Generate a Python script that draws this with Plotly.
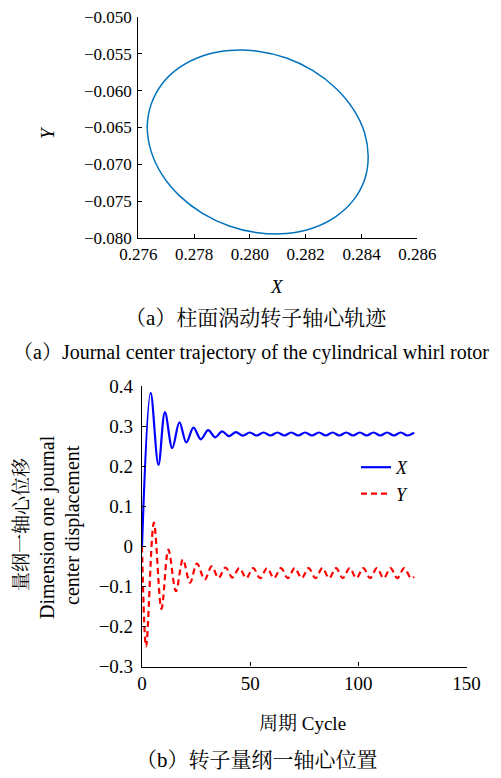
import plotly.graph_objects as go

# ---------------- (a) journal center trajectory ----------------
orbit_x = [0.28424, 0.28411, 0.28371, 0.28308, 0.28226, 0.28131, 0.28028, 0.27926,
           0.27830, 0.27748, 0.27685, 0.27646, 0.27632, 0.27646, 0.27685, 0.27748,
           0.27830, 0.27926, 0.28028, 0.28131, 0.28226, 0.28308, 0.28371, 0.28411, 0.28424]
orbit_y = [-0.06895, -0.06570, -0.06254, -0.05968, -0.05731, -0.05560, -0.05467, -0.05458,
           -0.05532, -0.05687, -0.05910, -0.06187, -0.06498, -0.06823, -0.07139, -0.07426,
           -0.07662, -0.07833, -0.07926, -0.07936, -0.07861, -0.07706, -0.07483, -0.07206, -0.06895]

# ---------------- (b) displacement vs cycle (extrema) ----------------
x_t = [0, 4.0, 7.6, 10.6, 14.0, 17.3, 20.5, 23.8, 27.2, 30.6, 33.8, 37.0, 40.2, 43.4, 46.6,
       49.8, 53.0, 56.2, 59.4, 62.6, 65.8, 69.0, 72.2, 75.4, 78.6, 81.8, 84.95, 88.1, 91.25,
       94.4, 97.55, 100.7, 103.85, 107.0, 110.15, 113.3, 116.45, 119.6, 122.75, 125.8]
x_v = [0.0, 0.383, 0.203, 0.335, 0.245, 0.309, 0.259, 0.296, 0.267, 0.290, 0.272, 0.287, 0.275,
       0.285, 0.276, 0.284, 0.2765, 0.284, 0.2765, 0.284, 0.2765, 0.284, 0.2765, 0.284, 0.2765,
       0.284, 0.2765, 0.284, 0.2765, 0.284, 0.2765, 0.284, 0.2765, 0.284, 0.2765, 0.284, 0.2765,
       0.284, 0.2765, 0.2835]

y_t = [0, 1.9, 5.5, 9.0, 12.2, 15.7, 18.9, 22.2, 25.4, 29.0, 32.2, 35.4, 38.6, 41.8, 45.0,
       48.2, 51.4, 54.6, 57.8, 61.0, 64.2, 67.4, 70.6, 73.8, 77.0, 80.2, 83.4, 86.5, 89.7,
       92.8, 96.0, 99.1, 102.3, 105.4, 108.6, 111.7, 114.9, 118.0, 121.2, 124.3, 125.8]
y_v = [0.0, -0.250, 0.059, -0.156, -0.008, -0.112, -0.033, -0.091, -0.043, -0.083, -0.050,
       -0.079, -0.053, -0.078, -0.0545, -0.0795, -0.0545, -0.0795, -0.0545, -0.0795, -0.0545,
       -0.0795, -0.0545, -0.0795, -0.0545, -0.0795, -0.0545, -0.0795, -0.0545, -0.0795, -0.0545,
       -0.0795, -0.0545, -0.0795, -0.0545, -0.0795, -0.0545, -0.0795, -0.0545, -0.0795, -0.076]

top_xticks = [0.276, 0.278, 0.280, 0.282, 0.284, 0.286]
top_yticks = [-0.050, -0.055, -0.060, -0.065, -0.070, -0.075, -0.080]
bot_xticks = [0, 50, 100, 150]
bot_yticks = [-0.3, -0.2, -0.1, 0, 0.1, 0.2, 0.3, 0.4]

W, H = 501, 778
FONT = "Liberation Serif, Noto Serif CJK SC, Noto Sans CJK SC, serif"


def px(x):
    return x / W


def py(y):
    return 1 - y / H


fig = go.Figure()
fig.add_trace(go.Scatter(x=orbit_x, y=orbit_y, mode="lines",
                         line=dict(color="#0072BD", width=1.5, shape="spline", smoothing=1.0),
                         xaxis="x", yaxis="y", showlegend=False))
fig.add_trace(go.Scatter(x=x_t, y=x_v, mode="lines", name="<i>X</i>",
                         line=dict(color="#0000FF", width=2.2, shape="spline", smoothing=1.0),
                         xaxis="x2", yaxis="y2"))
fig.add_trace(go.Scatter(x=y_t, y=y_v, mode="lines", name="<i>Y</i>",
                         line=dict(color="#FF0000", width=2.2, shape="spline", smoothing=1.0, dash="6px,4px"),
                         xaxis="x2", yaxis="y2"))

axis_common = dict(showline=True, linecolor="black", linewidth=1.2, ticks="inside", ticklen=4,
                   tickcolor="black", tickwidth=1.2, showgrid=False, zeroline=False, mirror=False,
                   automargin=False)

fig.update_layout(
    template="none",
    width=W, height=H,
    margin=dict(l=0, r=0, t=0, b=0),
    paper_bgcolor="white", plot_bgcolor="white",
    font=dict(family=FONT, color="black", size=17),
    xaxis=dict(domain=[px(138.3), px(417.3)], anchor="y", range=[0.276, 0.286],
               tickvals=top_xticks, tickformat=".3f", tickfont=dict(size=17, family=FONT),
               **axis_common),
    yaxis=dict(domain=[py(238.3), py(16.7)], anchor="x", range=[-0.080, -0.050],
               tickvals=top_yticks, tickformat=".3f", tickfont=dict(size=17, family=FONT),
               ticklabelstandoff=2, **axis_common),
    xaxis2=dict(domain=[px(142), px(466.5)], anchor="y2", range=[0, 150],
                tickvals=bot_xticks, tickfont=dict(size=19, family=FONT), **axis_common),
    yaxis2=dict(domain=[py(666.5), py(386)], anchor="x2", range=[-0.3, 0.4],
                tickvals=bot_yticks, tickfont=dict(size=19, family=FONT), ticklabelstandoff=4,
                **axis_common),
    legend=dict(x=px(356), y=py(449), xanchor="left", yanchor="top",
                bgcolor="rgba(0,0,0,0)", font=dict(size=18, family=FONT), tracegroupgap=0),
)

ann = [
    dict(text="<i>X</i>", x=px(277), y=py(287), size=19, angle=0),
    dict(text="<i>Y</i>", x=px(48), y=py(133), size=19, angle=-90),
    dict(text="（a）柱面涡动转子轴心轨迹", x=px(256), y=py(318), size=21, angle=0),
    dict(text="（a）Journal center trajectory of the cylindrical whirl rotor", x=px(251), y=py(352), size=20, angle=0),
    dict(text="周期 Cycle", x=px(302), y=py(723), size=19, angle=0),
    dict(text="（b）转子量纲一轴心位置", x=px(257), y=py(760), size=21, angle=0),
    dict(text="量纲一轴心位移", x=px(21), y=py(525), size=19, angle=-90),
    dict(text="Dimension one journal", x=px(47), y=py(527), size=20, angle=-90),
    dict(text="center displacement", x=px(72), y=py(525), size=20, angle=-90),
]
for a in ann:
    fig.add_annotation(text=a["text"], x=a["x"], y=a["y"], xref="paper", yref="paper",
                       xanchor="center", yanchor="middle", showarrow=False, textangle=a["angle"],
                       font=dict(size=a["size"], family=FONT, color="black"))

fig.write_html("out.html")
